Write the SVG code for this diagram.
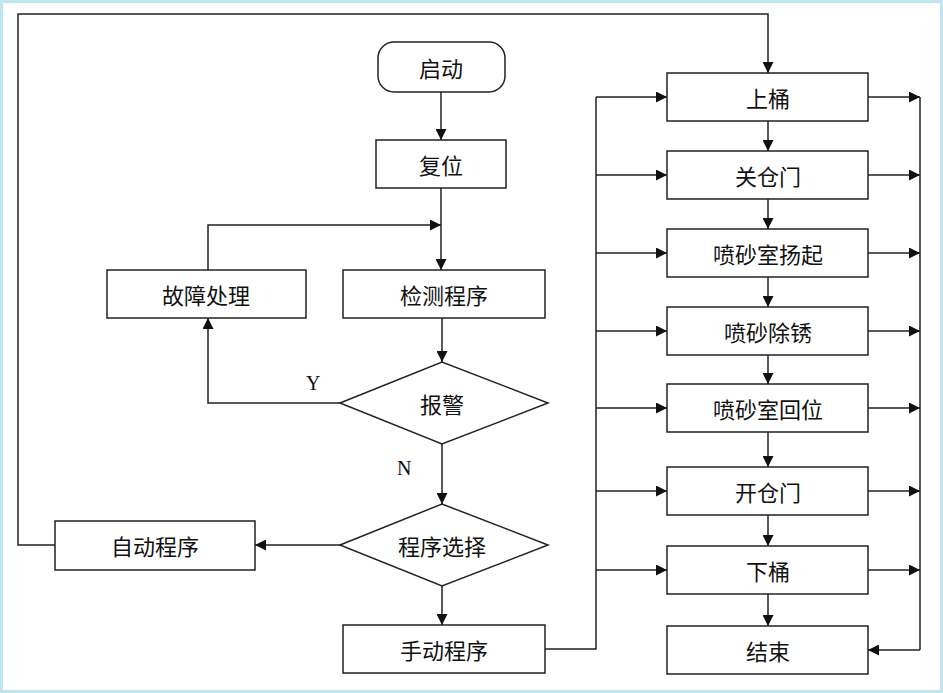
<svg xmlns="http://www.w3.org/2000/svg" width="943" height="693" viewBox="0 0 943 693">
<style>
.b{fill:#fff;stroke:#222;stroke-width:1.5}
.t{font-family:"Noto Sans CJK SC","Noto Sans",sans-serif;font-size:22px;fill:#111;text-anchor:middle;dominant-baseline:central}
.l{fill:none;stroke:#222;stroke-width:1.5}
.s{font-family:"Liberation Serif",serif;font-size:20px;fill:#111}
</style>
<defs><marker id="a" viewBox="0 0 10 10" refX="10" refY="5" markerWidth="15" markerHeight="11" markerUnits="userSpaceOnUse" orient="auto"><path d="M0,0L10,5L0,10z" fill="#111"/></marker></defs>
<rect x="0" y="0" width="943" height="693" fill="#fff"/>
<rect x="1.5" y="1.5" width="940" height="690" fill="none" stroke="#bfe6f0" stroke-width="3"/>
<g id="start"><rect class="b" x="378" y="42" width="127" height="50" rx="16"/><text class="t" x="441" y="67">启动</text></g>
<g id="reset"><rect class="b" x="376" y="140" width="130" height="48"/><text class="t" x="441" y="164">复位</text></g>
<g id="detect"><rect class="b" x="343" y="270" width="202" height="48"/><text class="t" x="444" y="294">检测程序</text></g>
<g id="fault"><rect class="b" x="107" y="270" width="199" height="48"/><text class="t" x="206" y="294">故障处理</text></g>
<g id="alarm"><polygon class="b" points="340,403 442,362 548,403 442,444"/><text class="t" x="442" y="403">报警</text></g>
<g id="select"><polygon class="b" points="340,545 442,504 548,545 442,586"/><text class="t" x="442" y="545">程序选择</text></g>
<g id="auto"><rect class="b" x="55" y="521" width="200" height="49"/><text class="t" x="155" y="545">自动程序</text></g>
<g id="manual"><rect class="b" x="343" y="625" width="202" height="48"/><text class="t" x="444" y="649">手动程序</text></g>
<g id="r1"><rect class="b" x="667" y="73" width="201" height="48"/><text class="t" x="768" y="97">上桶</text></g>
<g id="r2"><rect class="b" x="667" y="151" width="201" height="48"/><text class="t" x="768" y="175">关仓门</text></g>
<g id="r3"><rect class="b" x="667" y="229" width="201" height="48"/><text class="t" x="768" y="253">喷砂室扬起</text></g>
<g id="r4"><rect class="b" x="667" y="307" width="201" height="48"/><text class="t" x="768" y="331">喷砂除锈</text></g>
<g id="r5"><rect class="b" x="667" y="384" width="201" height="48"/><text class="t" x="768" y="408">喷砂室回位</text></g>
<g id="r6"><rect class="b" x="667" y="467" width="201" height="48"/><text class="t" x="768" y="491">开仓门</text></g>
<g id="r7"><rect class="b" x="667" y="546" width="201" height="48"/><text class="t" x="768" y="570">下桶</text></g>
<g id="r8"><rect class="b" x="667" y="626" width="201" height="48"/><text class="t" x="768" y="650">结束</text></g>
<g id="connectors">
<path class="l" d="M441,92V140" marker-end="url(#a)"/>
<path class="l" d="M441,188V270" marker-end="url(#a)"/>
<path class="l" d="M208,270V225H441" marker-end="url(#a)"/>
<path class="l" d="M442,318V362" marker-end="url(#a)"/>
<path class="l" d="M340,403H208V318" marker-end="url(#a)"/>
<path class="l" d="M442,444V504" marker-end="url(#a)"/>
<path class="l" d="M340,545H255" marker-end="url(#a)"/>
<path class="l" d="M442,586V625" marker-end="url(#a)"/>
<path class="l" d="M55,545H18V14H768V73" marker-end="url(#a)"/>
<path class="l" d="M545,649H596V97"/>
<path class="l" d="M596,97H667" marker-end="url(#a)"/>
<path class="l" d="M596,175H667" marker-end="url(#a)"/>
<path class="l" d="M596,253H667" marker-end="url(#a)"/>
<path class="l" d="M596,331H667" marker-end="url(#a)"/>
<path class="l" d="M596,408H667" marker-end="url(#a)"/>
<path class="l" d="M596,491H667" marker-end="url(#a)"/>
<path class="l" d="M596,570H667" marker-end="url(#a)"/>
<path class="l" d="M768,121V151" marker-end="url(#a)"/>
<path class="l" d="M768,199V229" marker-end="url(#a)"/>
<path class="l" d="M768,277V307" marker-end="url(#a)"/>
<path class="l" d="M768,355V384" marker-end="url(#a)"/>
<path class="l" d="M768,432V467" marker-end="url(#a)"/>
<path class="l" d="M768,515V546" marker-end="url(#a)"/>
<path class="l" d="M768,594V626" marker-end="url(#a)"/>
<path class="l" d="M920,97V650"/>
<path class="l" d="M868,97H920" marker-end="url(#a)"/>
<path class="l" d="M868,175H920" marker-end="url(#a)"/>
<path class="l" d="M868,253H920" marker-end="url(#a)"/>
<path class="l" d="M868,331H920" marker-end="url(#a)"/>
<path class="l" d="M868,408H920" marker-end="url(#a)"/>
<path class="l" d="M868,491H920" marker-end="url(#a)"/>
<path class="l" d="M868,570H920" marker-end="url(#a)"/>
<path class="l" d="M920,650H868" marker-end="url(#a)"/>
</g>
<text class="s" x="306" y="390">Y</text>
<text class="s" x="397" y="475">N</text>
</svg>
